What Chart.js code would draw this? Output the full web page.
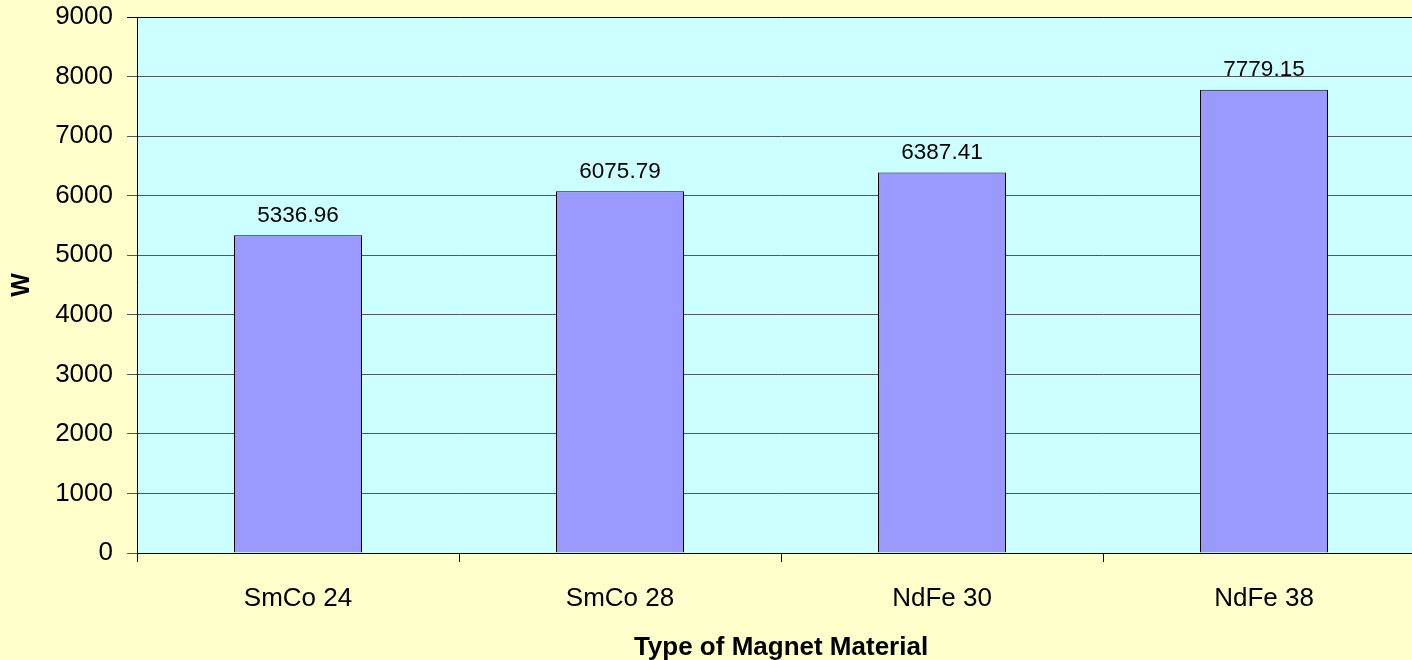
<!DOCTYPE html>
<html>
<head>
<meta charset="utf-8">
<script src="https://cdn.jsdelivr.net/npm/chart.js@4/dist/chart.umd.min.js"></script>
<style>
  html, body { margin: 0; padding: 0; background: #FFFFCC; overflow: hidden; }
  #wrap { position: absolute; left: 0; top: 0; width: 1440px; height: 660px; }
</style>
</head>
<body>
<div id="wrap"><canvas id="c" width="1440" height="660"></canvas></div>
<script>
const categories = ['SmCo 24', 'SmCo 28', 'NdFe 30', 'NdFe 38'];
const values = [5336.96, 6075.79, 6387.41, 7779.15];
const yTicks = [0, 1000, 2000, 3000, 4000, 5000, 6000, 7000, 8000, 9000];
const xTitle = 'Type of Magnet Material';
const yTitle = 'W';

const FONT = "'Liberation Sans', Arial, sans-serif";

const plotBg = {
  id: 'plotBg',
  beforeDraw(chart) {
    const { ctx, chartArea: a } = chart;
    ctx.save();
    ctx.fillStyle = '#CCFFFF';
    ctx.fillRect(a.left, a.top, a.right - a.left, a.bottom - a.top);
    ctx.restore();
  }
};

const valueLabels = {
  id: 'valueLabels',
  afterDatasetsDraw(chart) {
    const { ctx } = chart;
    const meta = chart.getDatasetMeta(0);
    ctx.save();
    ctx.font = '22.5px ' + FONT;
    ctx.fillStyle = '#000';
    ctx.textAlign = 'center';
    ctx.textBaseline = 'alphabetic';
    meta.data.forEach((bar, i) => {
      ctx.fillText(values[i].toFixed(2), bar.x, bar.y - 13.5);
    });
    ctx.restore();
  }
};

new Chart(document.getElementById('c'), {
  type: 'bar',
  data: {
    labels: categories,
    datasets: [{
      data: values,
      backgroundColor: '#9999FF',
      borderColor: '#000',
      borderWidth: 1,
      borderSkipped: 'start',
      categoryPercentage: 1.0,
      barPercentage: 128 / 322
    }]
  },
  options: {
    responsive: false,
    animation: false,
    devicePixelRatio: 1,
    layout: { padding: { left: 0, top: 17, right: 15, bottom: 0 } },
    plugins: { legend: { display: false }, tooltip: { enabled: false } },
    scales: {
      x: {
        afterFit(s) { s.height = 107; s.paddingLeft = 0; s.paddingRight = 0; },
        grid: {
          offset: true,
          drawOnChartArea: false,
          drawTicks: true,
          tickLength: 9,
          color: '#000',
          lineWidth: 1
        },
        border: { display: true, color: '#000', width: 1 },
        ticks: {
          color: '#000',
          font: { family: FONT, size: 26 },
          padding: 21,
          maxRotation: 0
        },
        title: {
          display: true,
          text: xTitle,
          color: '#000',
          font: { family: FONT, size: 26, weight: 'bold', lineHeight: 0.8 },
          padding: { top: 0, bottom: 2 }
        }
      },
      y: {
        min: 0,
        max: 9000,
        afterFit(s) { s.width = 137; s.paddingTop = 0; s.paddingBottom = 0; },
        afterBuildTicks(s) { s.ticks = yTicks.map(v => ({ value: v })); },
        grid: {
          drawTicks: true,
          tickLength: 10,
          color: ctx => (ctx.tick && ctx.tick.value === 9000) ? '#000' : '#505858',
          lineWidth: 1
        },
        border: { display: true, color: '#000', width: 1 },
        ticks: {
          color: '#000',
          font: { family: FONT, size: 26 },
          padding: 14,
          callback: v => String(v)
        },
        title: {
          display: true,
          text: yTitle,
          color: '#000',
          font: { family: FONT, size: 25, weight: 'bold', lineHeight: 1.2 },
          padding: { top: 7, bottom: 0 }
        }
      }
    }
  },
  plugins: [plotBg, valueLabels]
});
</script>
</body>
</html>
